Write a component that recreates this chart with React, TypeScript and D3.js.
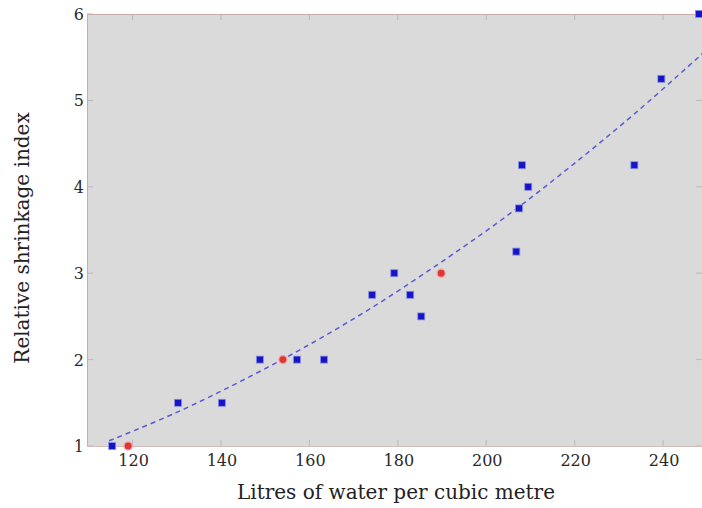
import React, { useEffect, useRef } from "react";
import * as d3 from "d3";

// measured points (blue) and highlighted points (red)
const blueX = [115.4, 130.3, 140.2, 148.8, 157.2, 163.3, 174.2, 179.2, 182.8, 185.3, 206.8, 207.4, 208.1, 209.5, 233.5, 239.6, 248.1];
const blueY = [1, 1.5, 1.5, 2, 2, 2, 2.75, 3, 2.75, 2.5, 3.25, 3.75, 4.25, 4.0, 4.25, 5.25, 6];
const redX = [119.0, 154.0, 189.8];
const redY = [1, 2, 3];

// dashed trend curve
const fitX = [114.7, 129.6, 144.5, 159.5, 174.4, 189.3, 204.3, 219.2, 234.1, 249.1];
const fitY = [1.06, 1.38, 1.75, 2.16, 2.61, 3.11, 3.65, 4.24, 4.87, 5.55];

const xTicks = [120, 140, 160, 180, 200, 220, 240];
const yTicks = [1, 2, 3, 4, 5, 6];

export default function App() {
  const ref = useRef<SVGSVGElement>(null);

  useEffect(() => {
    const width = 702;
    const svg = d3.select(ref.current);
    svg.selectAll("*").remove();

    const x = d3.scaleLinear().domain([109.7, 248.8]).range([87, 702]);
    const y = d3.scaleLinear().domain([1, 6]).range([446, 14]);

    const x0 = 87, x1 = width + 1;
    const y0 = y.range()[0], y1 = y.range()[1];

    // plot background
    svg.append("rect")
      .attr("x", x0).attr("y", y1)
      .attr("width", x1 - x0).attr("height", y0 - y1)
      .attr("fill", "#dadada");

    // inward ticks (bottom/top, left/right)
    const tickG = svg.append("g").attr("stroke", "#b9b9b9").attr("stroke-width", 1);
    xTicks.forEach(t => {
      tickG.append("line").attr("x1", x(t)).attr("x2", x(t)).attr("y1", y0).attr("y2", y0 - 6);
      tickG.append("line").attr("x1", x(t)).attr("x2", x(t)).attr("y1", y1).attr("y2", y1 + 6);
    });
    yTicks.forEach(t => {
      tickG.append("line").attr("x1", x0).attr("x2", x0 + 6).attr("y1", y(t)).attr("y2", y(t));
      tickG.append("line").attr("x1", width).attr("x2", width - 6).attr("y1", y(t)).attr("y2", y(t));
    });

    // frame (top and left lines look slightly reddish)
    svg.append("line").attr("x1", x0).attr("x2", x1).attr("y1", y1 + 0.5).attr("y2", y1 + 0.5)
      .attr("stroke", "#c9adad");
    svg.append("line").attr("x1", x0 + 0.5).attr("x2", x0 + 0.5).attr("y1", y1).attr("y2", y0)
      .attr("stroke", "#c9adad");
    svg.append("line").attr("x1", x0).attr("x2", x1).attr("y1", y0 + 0.5).attr("y2", y0 + 0.5)
      .attr("stroke", "#d2bcbc");

    // tick labels
    const font = "'DejaVu Serif', 'Liberation Serif', serif";
    svg.append("g").selectAll("text").data(xTicks).enter().append("text")
      .attr("x", d => x(d) + 1).attr("y", y0 + 20)
      .attr("text-anchor", "middle")
      .style("font-family", font).style("font-size", "16px").attr("fill", "#2a2a2a")
      .text(d => d);
    svg.append("g").selectAll("text").data(yTicks).enter().append("text")
      .attr("x", x0 - 3).attr("y", d => y(d) + 6)
      .attr("text-anchor", "end")
      .style("font-family", font).style("font-size", "16px").attr("fill", "#2a2a2a")
      .text(d => d);

    // axis labels
    svg.append("text")
      .attr("x", 396).attr("y", 499)
      .attr("text-anchor", "middle")
      .style("font-family", font).style("font-size", "20px").attr("fill", "#222")
      .text("Litres of water per cubic metre");
    svg.append("text")
      .attr("transform", "translate(29,238) rotate(-90)")
      .attr("text-anchor", "middle")
      .style("font-family", font).style("font-size", "20px").attr("fill", "#222")
      .text("Relative shrinkage index");

    // dashed fit curve
    const line = d3.line<number>()
      .x((d, i) => x(fitX[i]))
      .y(d => y(d))
      .curve(d3.curveCatmullRom);
    const clip = svg.append("clipPath").attr("id", "plotclip");
    clip.append("rect").attr("x", x0).attr("y", y1).attr("width", x1 - x0).attr("height", y0 - y1);
    svg.append("path")
      .datum(fitY)
      .attr("clip-path", "url(#plotclip)")
      .attr("d", line)
      .attr("fill", "none")
      .attr("stroke", "#5a5ad6")
      .attr("stroke-width", 1.5)
      .attr("stroke-dasharray", "5,4");

    // blue squares
    const sz = 7;
    svg.append("g").selectAll("rect").data(blueX).enter().append("rect")
      .attr("x", (d) => x(d) - sz / 2)
      .attr("y", (d, i) => y(blueY[i]) - sz / 2)
      .attr("width", sz).attr("height", sz)
      .attr("fill", "#1414c8")
      .attr("stroke", "#8c8ce6").attr("stroke-width", 0.8);

    // red points
    svg.append("g").selectAll("circle").data(redX).enter().append("circle")
      .attr("cx", d => x(d))
      .attr("cy", (d, i) => y(redY[i]))
      .attr("r", 4)
      .attr("fill", "#e03535")
      .attr("stroke", "#f2a0a0").attr("stroke-width", 1.2);
  }, []);

  return (
    <svg ref={ref} width={702} height={508}
      style={{ position: "absolute", left: 0, top: 0, background: "#fff" }} />
  );
}
